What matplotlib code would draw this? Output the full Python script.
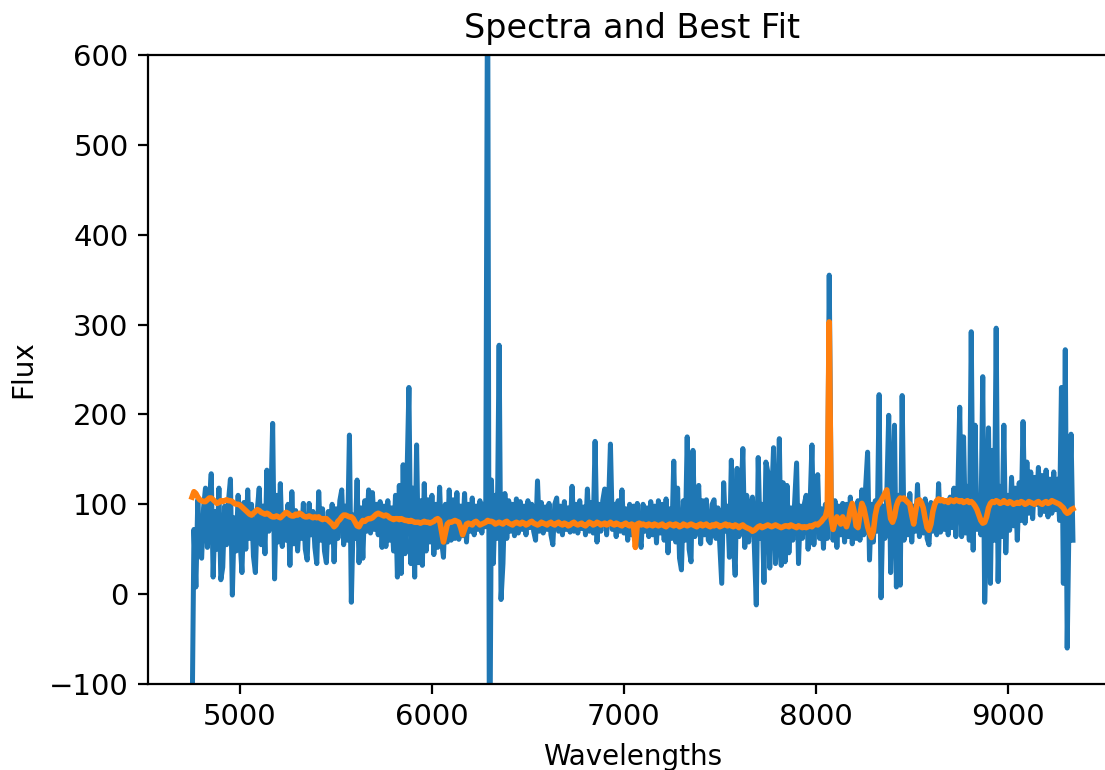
import numpy as np
import matplotlib
matplotlib.use("Agg")
import matplotlib.pyplot as plt

# spectrum pixel grid (10 A steps), 4750 .. 9340
wave = np.arange(4750, 9350, 10)

flux = [
    -150, 72, 8, 105, 48, 40, 96, 118, 52, 100,
    134, 19, 92, 50, 118, 16, 30, 98, 55, 104,
    128, -1, 85, 48, 110, 60, 24, 102, 50, 116,
    62, 100, 42, 24, 94, 118, 55, 98, 45, 138,
    70, 96, 190, 17, 110, 58, 123, 53, 90, 60,
    100, 32, 114, 56, 93, 48, 88, 62, 101, 50,
    38, 101, 66, 92, 52, 34, 114, 60, 95, 48,
    35, 92, 58, 100, 36, 95, 62, 104, 116, 55,
    98, 60, 177, -9, 88, 62, 127, 35, 96, 40,
    104, 70, 116, 68, 113, 72, 100, 66, 103, 52,
    98, 53, 104, 60, 96, 48, 110, 19, 121, 23,
    144, 45, 130, 230, 34, 118, 19, 166, 35, 104,
    32, 123, 48, 105, 58, 110, 44, 100, 52, 119,
    60, 41, 100, 58, 116, 60, 105, 62, 113, 61,
    98, 65, 112, 58, 100, 70, 107, 66, 98, 72,
    104, 68, 100, 75, 720, -250, 127, 34, 110, 62,
    277, -6, 34, 112, 62, 104, 70, 100, 65, 106,
    68, 103, 72, 98, 66, 104, 74, 100, 70, 60,
    126, 70, 102, 68, 97, 72, 101, 66, 55, 100,
    107, 70, 98, 66, 103, 72, 96, 69, 120, 70,
    100, 68, 104, 73, 97, 66, 117, 70, 102, 68,
    170, 58, 100, 70, 104, 117, 66, 98, 167, 72,
    100, 64, 104, 70, 116, 68, 95, 60, 100, 66,
    98, 62, 101, 66, 52, 100, 70, 96, 64, 103,
    66, 98, 57, 104, 68, 100, 60, 106, 46, 95,
    62, 148, 58, 118, 40, 27, 104, 60, 175, 50,
    36, 160, 64, 100, 121, 56, 104, 66, 105, 60,
    57, 100, 105, 62, 96, 55, 12, 124, 70, 98,
    41, 149, 60, 21, 140, 64, 104, 162, 52, 110,
    58, 98, 108, 52, -12, 152, 62, 100, 13, 147,
    136, 29, 104, 163, 34, 60, 173, 32, 124, 36,
    121, 46, 96, 60, 104, 146, 34, 98, 62, 100,
    110, 50, 98, 166, 55, 104, 133, 62, 95, 51,
    100, 62, 355, 110, 60, 104, 52, 98, 66, 101,
    58, 100, 64, 108, 56, 98, 62, 104, 60, 116,
    66, 120, 158, 38, 100, 58, 104, 70, 222, -4,
    98, 62, 112, 199, 24, 100, 188, 8, 110, 10,
    221, 60, 104, 66, 112, 58, 98, 70, 122, 64,
    100, 68, 106, 62, 55, 102, 70, 98, 66, 123,
    69, 104, 72, 100, 66, 108, 74, 118, 64, 112,
    208, 64, 175, 68, 120, 60, 292, 49, 188, 72,
    104, 66, 242, -9, 70, 185, 12, 160, 60, 296,
    14, 120, 64, 188, 46, 110, 71, 130, 76, 118,
    60, 124, 82, 192, 79, 147, 90, 136, 84, 130,
    100, 141, 88, 132, 92, 138, 86, 128, 90, 136,
    94, 128, 82, 230, 12, 272, -60, 90, 178, 60,
]

# best-fit model on the same grid
best_fit = [
    108, 114, 112, 108, 105, 104, 103, 103, 105, 107,
    107, 105, 103, 101, 102, 104, 103, 104, 105, 104,
    104, 103, 101, 100, 100, 99, 97, 95, 93, 91,
    89, 88, 90, 92, 94, 93, 91, 90, 89, 90,
    89, 87, 86, 86, 87, 86, 85, 87, 89, 91,
    90, 88, 87, 87, 89, 88, 90, 89, 87, 86,
    86, 87, 86, 85, 86, 85, 86, 84, 83, 84,
    84, 82, 80, 78, 75, 77, 81, 83, 86, 88,
    88, 87, 86, 86, 84, 80, 76, 75, 79, 82,
    81, 83, 84, 84, 85, 87, 89, 90, 89, 88,
    87, 88, 87, 85, 84, 83, 84, 84, 83, 84,
    83, 82, 82, 81, 82, 81, 80, 80, 80, 79,
    80, 81, 80, 80, 79, 80, 81, 83, 84, 82,
    70, 58, 68, 78, 80, 80, 81, 82, 81, 80,
    74, 66, 72, 78, 79, 78, 77, 80, 81, 79,
    77, 78, 79, 80, 82, 81, 81, 80, 78, 79,
    80, 79, 78, 80, 81, 79, 78, 77, 79, 80,
    79, 78, 80, 79, 77, 78, 80, 81, 79, 78,
    77, 78, 80, 79, 78, 77, 79, 80, 78, 77,
    79, 80, 78, 77, 79, 78, 76, 77, 79, 80,
    78, 77, 78, 79, 77, 76, 78, 80, 79, 77,
    78, 80, 79, 77, 78, 79, 77, 78, 80, 78,
    77, 79, 78, 77, 76, 78, 79, 77, 76, 78,
    77, 52, 78, 79, 77, 78, 77, 76, 78, 77,
    76, 78, 77, 76, 77, 78, 76, 75, 77, 78,
    77, 76, 78, 77, 75, 76, 78, 77, 76, 77,
    78, 77, 76, 75, 77, 78, 76, 77, 78, 76,
    75, 77, 76, 78, 77, 75, 76, 77, 78, 76,
    77, 76, 75, 77, 76, 74, 76, 77, 75, 74,
    73, 72, 70, 71, 73, 75, 76, 74, 75, 76,
    77, 76, 75, 76, 77, 76, 75, 74, 75, 76,
    76, 75, 77, 76, 75, 74, 76, 75, 74, 75,
    74, 75, 76, 75, 77, 78, 77, 79, 81, 84,
    86, 95, 303, 84, 72, 80, 86, 82, 78, 86,
    80, 75, 82, 94, 101, 92, 76, 74, 88, 101,
    96, 86, 75, 68, 63, 70, 88, 98, 101, 104,
    108, 112, 116, 100, 84, 80, 86, 98, 104, 107,
    106, 107, 104, 102, 100, 88, 78, 92, 104, 105,
    102, 96, 84, 74, 71, 78, 92, 100, 104, 106,
    104, 105, 103, 104, 102, 105, 104, 103, 105, 104,
    103, 104, 102, 103, 104, 102, 103, 101, 98, 94,
    88, 82, 79, 80, 86, 96, 101, 103, 102, 104,
    103, 101, 102, 104, 102, 101, 103, 102, 100, 101,
    102, 101, 103, 102, 100, 101, 103, 102, 101, 100,
    102, 103, 101, 100, 102, 103, 101, 102, 104, 103,
    102, 101, 100, 98, 96, 92, 90, 91, 94, 95,
]

fig = plt.figure(figsize=(1105 / 200, 770 / 200), dpi=200)
ax = fig.add_axes([148 / 1105, 86 / 770, 969 / 1105, 629 / 770])
ax.plot(wave, flux, linewidth=1.8)
ax.plot(wave, best_fit, linewidth=2.0)
ax.set_ylim(-100, 600)
ax.set_title("Spectra and Best Fit")
ax.set_xlabel("Wavelengths")
ax.set_ylabel("Flux")
ax.tick_params(labelsize=10.5)
fig.savefig("out.png", dpi=200)
